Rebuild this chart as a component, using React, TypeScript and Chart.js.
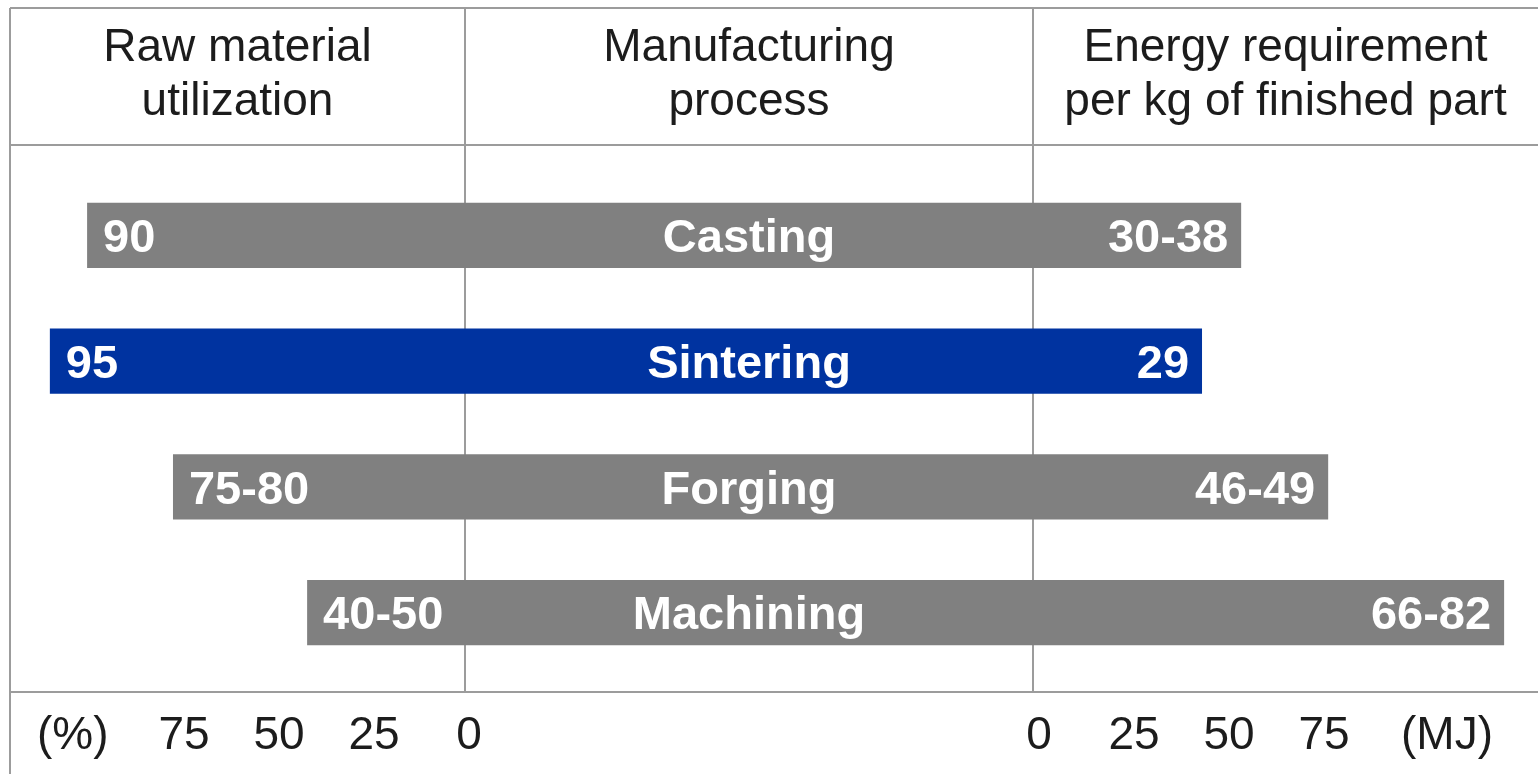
import React, { useEffect, useRef } from "react";
import { Chart, registerables } from "chart.js";

Chart.register(...registerables);

// ---- data ----
const categories = ["Casting", "Sintering", "Forging", "Machining"];
const materialLabels = ["90", "95", "75-80", "40-50"];
const energyLabels = ["30-38", "29", "46-49", "66-82"];
// bar extents as drawn (in axis units; the source is schematic)
const materialBarExtent = [100.5, 110.3, 77.9, 42.6];
const energyBarExtent = [53.2, 42.9, 76.1, 122.4];
const materialTicks = [75, 50, 25, 0];
const energyTicks = [0, 25, 50, 75];
const highlighted = "Sintering";
const headerLines = [
  ["Raw material", "utilization"],
  ["Manufacturing", "process"],
  ["Energy requirement", "per kg of finished part"],
];

// ---- layout / style ----
const W = 1538;
const H = 774;
const GAP = 150; // axis units between material 0 and energy 0
const FONT = "'Liberation Sans', Arial, Helvetica, sans-serif";
const LINE = "#9c9c9c";
const GREY = "#808080";
const BLUE = "#0033a0";

const tablePlugin = {
  id: "tableDecor",
  beforeDatasetsDraw(chart: any) {
    const ctx = chart.ctx as CanvasRenderingContext2D;
    const xs = chart.scales.x;
    ctx.save();
    ctx.strokeStyle = LINE;
    ctx.lineWidth = 2;
    const seg = (x1: number, y1: number, x2: number, y2: number) => {
      ctx.beginPath();
      ctx.moveTo(x1, y1);
      ctx.lineTo(x2, y2);
      ctx.stroke();
    };
    seg(10, 8, W, 8);
    seg(10, 8, 10, H);
    seg(10, 145, W, 145);
    seg(10, 692, W, 692);
    seg(465, 8, 465, 692);
    seg(1033, 8, 1033, 692);

    ctx.fillStyle = "#1c1c1c";
    ctx.font = `46px ${FONT}`;
    ctx.textAlign = "center";
    ctx.textBaseline = "alphabetic";
    const cols = [
      [10, 465],
      [465, 1033],
      [1033, W],
    ];
    headerLines.forEach((lines, i) => {
      const cx = (cols[i][0] + cols[i][1]) / 2;
      lines.forEach((t, j) => ctx.fillText(t, cx, 61 + j * 54));
    });

    materialTicks.forEach((t) => ctx.fillText(String(t), xs.getPixelForValue(-t), 749));
    energyTicks.forEach((t) => ctx.fillText(String(t), xs.getPixelForValue(GAP + t), 749));
    ctx.textAlign = "left";
    ctx.fillText("(%)", 37, 749);
    ctx.textAlign = "right";
    ctx.fillText("(MJ)", 1493, 749);
    ctx.restore();
  },
  afterDatasetsDraw(chart: any) {
    const ctx = chart.ctx as CanvasRenderingContext2D;
    const meta = chart.getDatasetMeta(0);
    ctx.save();
    ctx.fillStyle = "#ffffff";
    const fs = 47;
    ctx.font = `bold ${fs}px ${FONT}`;
    ctx.textBaseline = "alphabetic";
    meta.data.forEach((bar: any, i: number) => {
      const p = bar.getProps(["x", "y", "base"], true);
      const left = Math.min(p.x, p.base);
      const right = Math.max(p.x, p.base);
      const by = p.y + (fs * 0.716) / 2;
      ctx.textAlign = "left";
      ctx.fillText(materialLabels[i], left + 16, by);
      ctx.textAlign = "center";
      ctx.fillText(categories[i], 749, by);
      ctx.textAlign = "right";
      ctx.fillText(energyLabels[i], right - 13, by);
    });
    ctx.restore();
  },
};

export default function App() {
  const ref = useRef<HTMLCanvasElement | null>(null);

  useEffect(() => {
    if (!ref.current) return;
    const chart = new Chart(ref.current, {
      type: "bar",
      data: {
        labels: categories,
        datasets: [
          {
            data: categories.map((_, i) => [-materialBarExtent[i], GAP + energyBarExtent[i]]) as any,
            backgroundColor: categories.map((c) => (c === highlighted ? BLUE : GREY)),
            borderWidth: 0,
            categoryPercentage: 1,
            barPercentage: 0.517,
          },
        ],
      },
      options: {
        indexAxis: "y",
        responsive: false,
        animation: false,
        devicePixelRatio: 1,
        layout: { padding: { left: 10, right: 0, top: 172.5, bottom: H - 675.5 } },
        plugins: { legend: { display: false }, tooltip: { enabled: false } },
        scales: {
          x: { type: "linear", min: (10 - 469) / 3.8, max: (W - 469) / 3.8, display: false },
          y: { type: "category", display: false, offset: true },
        },
      },
      plugins: [tablePlugin],
    });
    return () => chart.destroy();
  }, []);

  return (
    <div style={{ position: "fixed", left: 0, top: 0, width: W, height: H, background: "#fff" }}>
      <canvas ref={ref} width={W} height={H} style={{ display: "block", width: W, height: H }} />
    </div>
  );
}
